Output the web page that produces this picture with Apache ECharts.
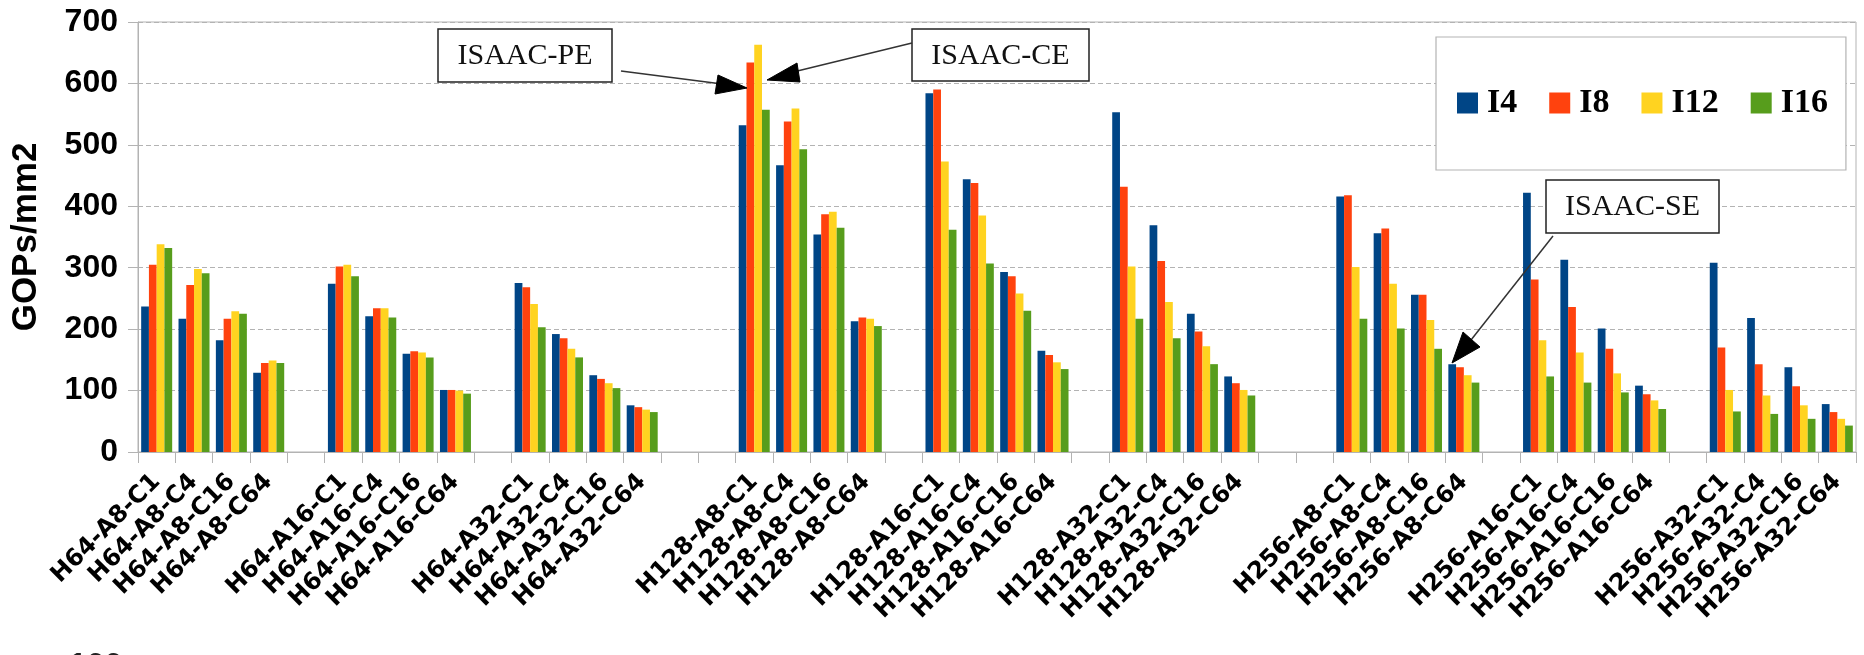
<!DOCTYPE html>
<html>
<head>
<meta charset="utf-8">
<script src="https://cdn.jsdelivr.net/npm/echarts@6/dist/echarts.min.js"></script>
<style>
html,body{margin:0;padding:0;background:#fff;}
#chart{width:1864px;height:655px;}
</style>
</head>
<body>
<div id="chart"></div>
<script>
const categories = [
  'H64-A8-C1','H64-A8-C4','H64-A8-C16','H64-A8-C64','',
  'H64-A16-C1','H64-A16-C4','H64-A16-C16','H64-A16-C64','',
  'H64-A32-C1','H64-A32-C4','H64-A32-C16','H64-A32-C64','','',
  'H128-A8-C1','H128-A8-C4','H128-A8-C16','H128-A8-C64','',
  'H128-A16-C1','H128-A16-C4','H128-A16-C16','H128-A16-C64','',
  'H128-A32-C1','H128-A32-C4','H128-A32-C16','H128-A32-C64','','',
  'H256-A8-C1','H256-A8-C4','H256-A8-C16','H256-A8-C64','',
  'H256-A16-C1','H256-A16-C4','H256-A16-C16','H256-A16-C64','',
  'H256-A32-C1','H256-A32-C4','H256-A32-C16','H256-A32-C64'
];
const I4 = [
  237,217,182,129,null,
  274,221,160,101,null,
  275,192,125,76,null,null,
  532,467,354,213,null,
  584,444,293,165,null,
  553,369,225,123,null,null,
  416,356,256,143,null,
  422,313,201,108,null,
  308,218,138,78
];
const I8 = [
  305,272,217,145,null,
  302,234,164,101,null,
  268,185,119,73,null,null,
  634,538,387,219,null,
  590,438,286,158,null,
  432,311,196,112,null,null,
  418,364,256,138,null,
  281,236,168,94,null,
  170,143,107,65
];
const I12 = [
  338,298,229,149,null,
  305,234,162,100,null,
  241,168,112,69,null,null,
  663,559,391,217,null,
  473,385,258,146,null,
  302,244,172,101,null,null,
  301,274,215,125,null,
  182,162,128,84,null,
  101,92,76,54
];
const I16 = [
  332,291,225,145,null,
  286,219,154,95,null,
  203,154,104,65,null,null,
  557,493,365,205,null,
  362,307,230,135,null,
  217,185,143,92,null,null,
  217,201,168,113,null,
  123,113,97,70,null,
  66,62,54,43
];
const seriesNames = ['I4','I8','I12','I16'];
const seriesData = [I4, I8, I12, I16];
const colors = ['#004586','#ff420e','#ffd320','#579d1c'];
const yTicks = {min: 0, max: 700, interval: 100};

const axisGray = '#b3b3b3';
const chart = echarts.init(document.getElementById('chart'), null, {renderer: 'canvas'});

function box(x, y, w, h, label) {
  return [
    {type: 'rect', z: 100, shape: {x: x, y: y, width: w, height: h},
     style: {fill: '#fff', stroke: '#222', lineWidth: 1.5}},
    {type: 'text', z: 101, x: x + w / 2, y: y + h / 2 + 1,
     style: {text: label, align: 'center', verticalAlign: 'middle',
             font: '30px "Liberation Serif"', fill: '#111'}}
  ];
}
function arrow(from, base, tip, p1, p2) {
  return [
    {type: 'polyline', z: 100, shape: {points: [from, base]},
     style: {stroke: '#333', lineWidth: 1.5, fill: null}},
    {type: 'polygon', z: 101, shape: {points: [tip, p1, p2]},
     style: {fill: '#000', stroke: '#000', lineWidth: 1}}
  ];
}

const option = {
  backgroundColor: '#fff',
  animation: false,
  color: colors,
  grid: {left: 138, right: 8, top: 22, bottom: 203, show: true,
         borderColor: axisGray, borderWidth: 1, backgroundColor: 'transparent'},
  legend: {
    left: 1436, top: 37,
    orient: 'horizontal',
    padding: [49, 18, 50, 21],
    itemGap: 32,
    itemWidth: 21, itemHeight: 21,
    icon: 'rect',
    backgroundColor: '#fff',
    borderColor: axisGray, borderWidth: 1.2,
    textStyle: {fontFamily: '"Liberation Serif"', fontWeight: 'bold', fontSize: 34,
                lineHeight: 34, color: '#000', padding: [0, 0, 0, 4]},
    data: seriesNames
  },
  xAxis: {
    type: 'category',
    data: categories,
    boundaryGap: true,
    axisLine: {show: true, lineStyle: {color: axisGray, width: 1}},
    axisTick: {show: true, interval: 0, length: 11, lineStyle: {color: axisGray}},
    axisLabel: {interval: 0, rotate: 45, margin: 26, fontFamily: '"DejaVu Sans"',
                fontWeight: 'bold', fontSize: 24, color: '#000', hideOverlap: false},
    splitLine: {show: false}
  },
  yAxis: {
    type: 'value',
    min: yTicks.min, max: yTicks.max, interval: yTicks.interval,
    name: 'GOPs/mm2',
    nameLocation: 'middle',
    nameGap: 94,
    nameTextStyle: {fontFamily: '"Liberation Sans"', fontWeight: 'bold', fontSize: 35, color: '#000'},
    axisLine: {show: true, lineStyle: {color: axisGray, width: 1}},
    axisTick: {show: true, length: 10, lineStyle: {color: axisGray}},
    axisLabel: {margin: 20, fontFamily: '"Liberation Sans"', fontWeight: 'bold', fontSize: 32, color: '#000'},
    splitLine: {show: true, lineStyle: {color: axisGray, type: [5, 3], width: 1}}
  },
  series: seriesNames.map((n, i) => ({
    name: n,
    type: 'bar',
    data: seriesData[i],
    barGap: '0%',
    barCategoryGap: '17%',
    itemStyle: {color: colors[i]}
  })),
  graphic: [].concat(
    box(438, 29, 174, 53, 'ISAAC-PE'),
    box(912, 29, 177, 52, 'ISAAC-CE'),
    box(1546, 180, 173, 53, 'ISAAC-SE'),
    arrow([621, 71], [730, 85], [747, 88], [718, 75], [715, 94]),
    arrow([912, 43], [785, 74], [767, 80], [797, 63], [800, 82]),
    arrow([1553, 236], [1471, 340], [1452, 363], [1463, 332], [1480, 347]),
    [{type: 'text', z: 50, x: 69, y: 650,
      style: {text: '100', font: 'bold 32px "Liberation Sans"', fill: '#222', verticalAlign: 'top'}}]
  )
};
chart.setOption(option);
</script>
</body>
</html>
